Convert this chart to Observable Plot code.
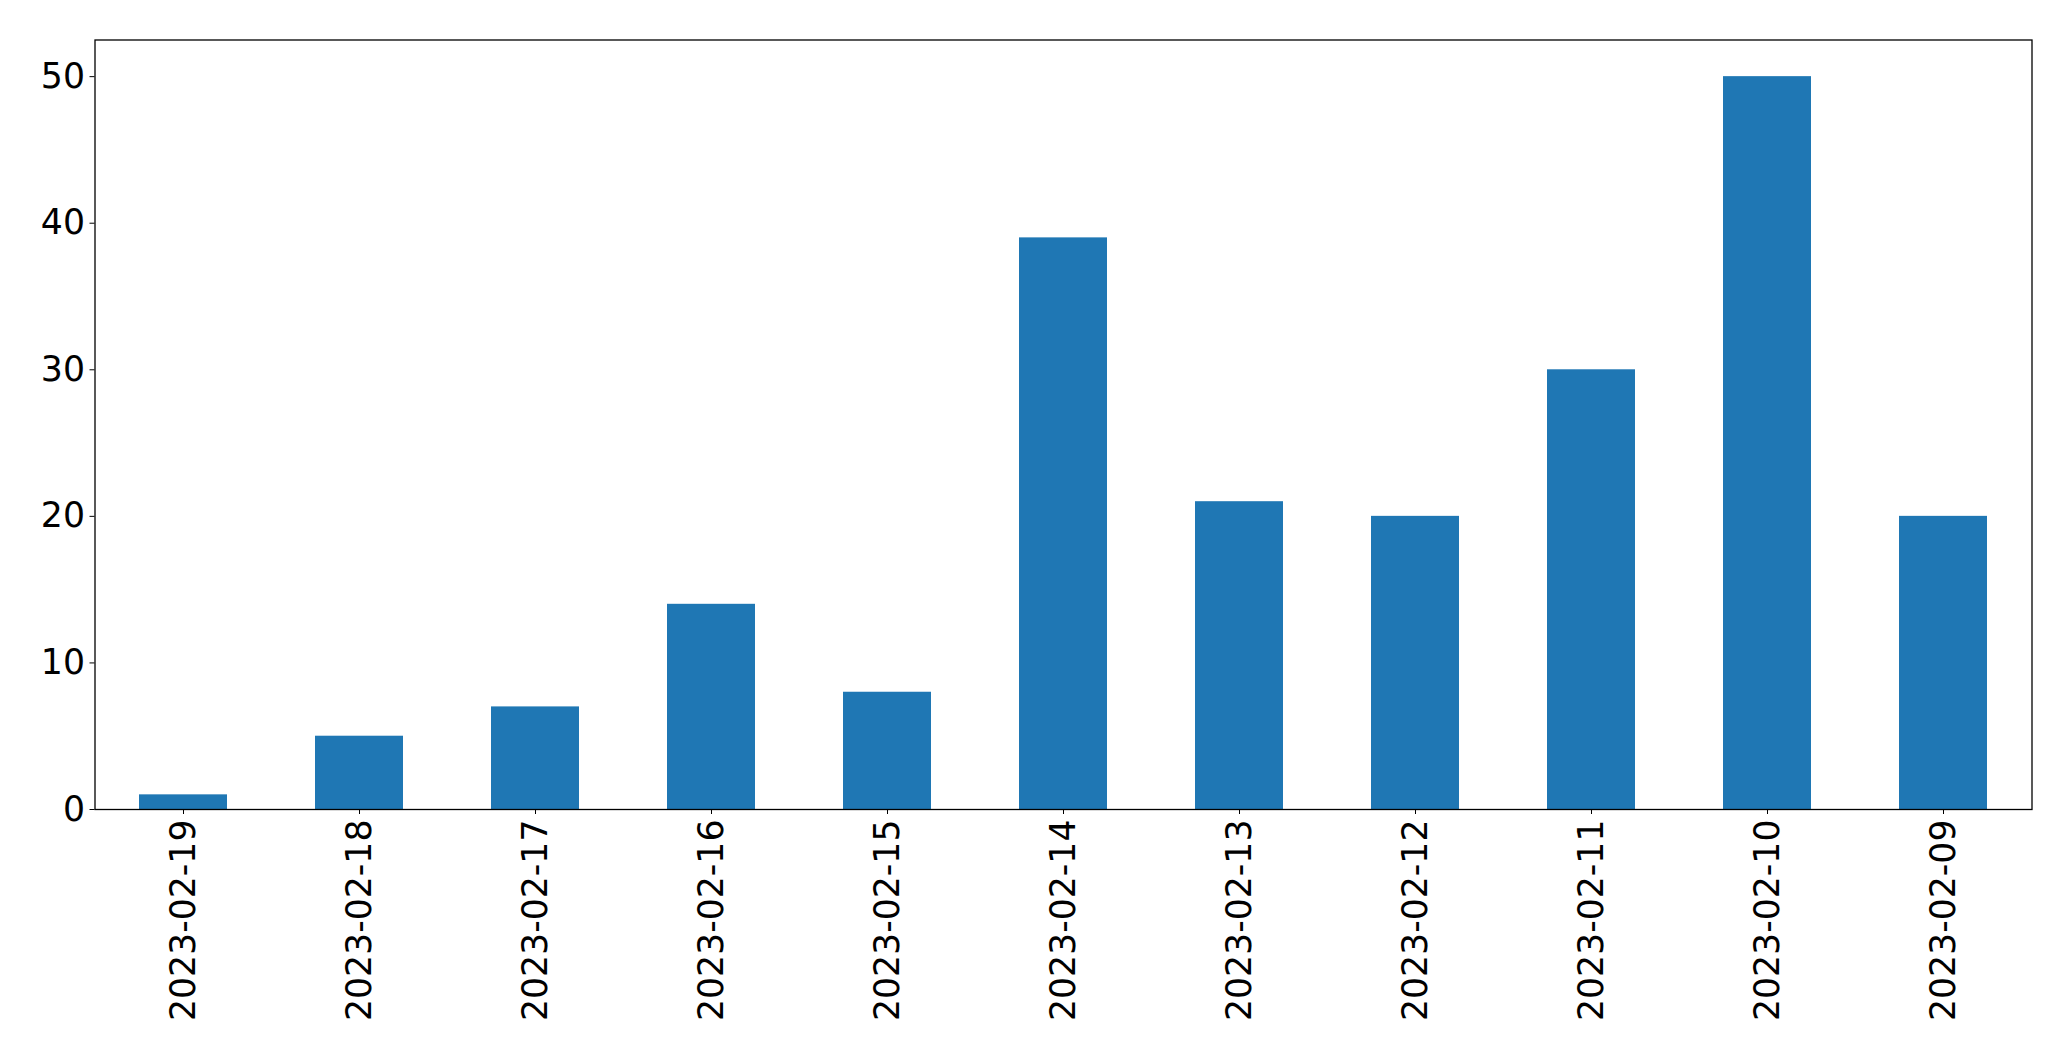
<!DOCTYPE html>
<html>
<head>
<meta charset="utf-8">
<script src="https://cdn.jsdelivr.net/npm/d3@7"></script>
<script src="https://cdn.jsdelivr.net/npm/@observablehq/plot@0.6"></script>
<style>
html, body { margin: 0; padding: 0; background: #fff; }
svg { display: block; }
</style>
</head>
<body>
<div id="chart"></div>
<script>
const dates = ["2023-02-19","2023-02-18","2023-02-17","2023-02-16","2023-02-15","2023-02-14","2023-02-13","2023-02-12","2023-02-11","2023-02-10","2023-02-09"];
const counts = [1, 5, 7, 14, 8, 39, 21, 20, 30, 50, 20];
const yTicks = [0, 10, 20, 30, 40, 50];

const data = dates.map((d, i) => ({date: d, count: counts[i]}));

const chart = Plot.plot({
  width: 2071,
  height: 1061,
  marginLeft: 94.5,
  marginRight: 39.5,
  marginTop: 39.5,
  marginBottom: 252,
  style: {fontFamily: "DejaVu Sans", fontSize: "34.7px", color: "#000", background: "#fff"},
  x: {domain: dates, paddingInner: 0.5, paddingOuter: 0.25, label: null},
  y: {domain: [0, 52.5], label: null},
  marks: [
    Plot.barY(data, {x: "date", y: "count", fill: "#1f77b4"}),
    Plot.axisY({ticks: yTicks, tickSize: 5, tickPadding: 5, label: null, fontSize: 34.7, stroke: "#000", color: "#000"}),
    Plot.axisX({tickSize: 5, tickPadding: 5, tickRotate: -90, label: null, fontSize: 34.7}),
    Plot.frame({stroke: "#000", strokeWidth: 1.3})
  ]
});
document.getElementById("chart").appendChild(chart);
</script>
</body>
</html>
